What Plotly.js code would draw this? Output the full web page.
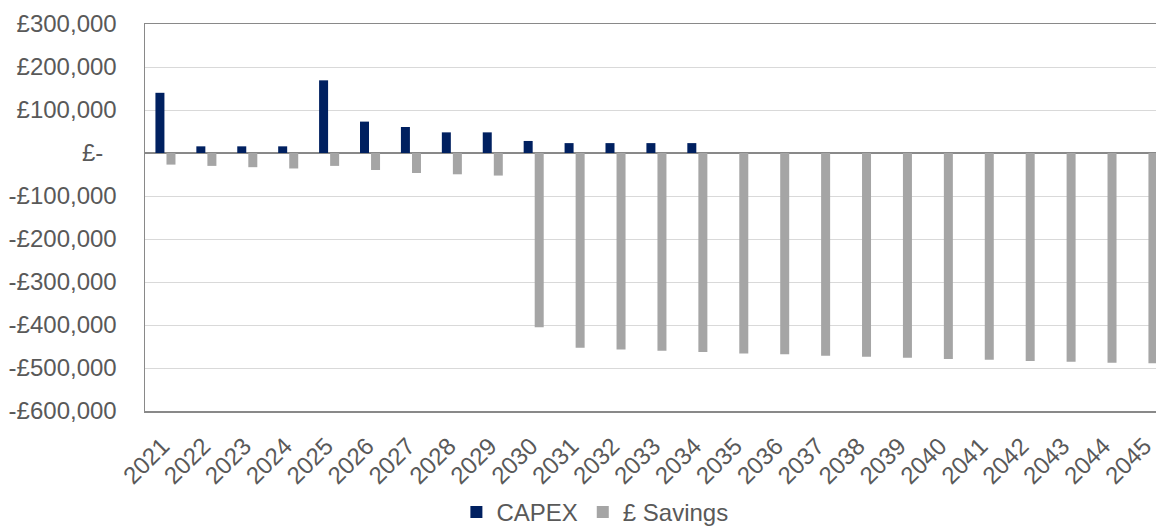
<!DOCTYPE html>
<html>
<head>
<meta charset="utf-8">
<script src="https://cdn.plot.ly/plotly-3.0.1.min.js"></script>
<style>
html,body{margin:0;padding:0;overflow:hidden;background:#fff;}
#chart{width:1156px;height:531px;}
</style>
</head>
<body>
<div id="chart"></div>
<script>
const years = ['2021','2022','2023','2024','2025','2026','2027','2028','2029','2030','2031','2032','2033','2034','2035','2036','2037','2038','2039','2040','2041','2042','2043','2044','2045'];
const capex = [140000,15500,15500,15500,169000,73000,60500,48000,48000,28000,23000,23000,23000,23000,0,0,0,0,0,0,0,0,0,0,0];
const savings = [-27000,-30000,-33000,-36000,-30000,-39500,-46500,-49500,-52500,-405000,-453000,-457000,-460000,-463000,-466000,-468000,-471500,-474000,-476000,-479000,-481000,-484000,-485500,-488000,-489000];
const yTickVals = [300000,200000,100000,0,-100000,-200000,-300000,-400000,-500000,-600000];
const yTickText = ['£300,000','£200,000','£100,000','£-\u2007','-£100,000','-£200,000','-£300,000','-£400,000','-£500,000','-£600,000'];

const font = {family:'"Liberation Sans", Arial, sans-serif', size:24, color:'#595959'};

const traces = [
  {type:'bar', name:'CAPEX', x:years, y:capex, marker:{color:'#002060'}, width:0.22, offset:-0.245, hoverinfo:'x+y'},
  {type:'bar', name:'£ Savings', x:years, y:savings, marker:{color:'#A5A5A5'}, width:0.22, offset:0.025, hoverinfo:'x+y'}
];

const layout = {
  width:1156, height:531,
  margin:{l:145, r:0, t:24, b:120, pad:0, autoexpand:false},
  paper_bgcolor:'#ffffff', plot_bgcolor:'#ffffff',
  font:font,
  barmode:'group',
  showlegend:true,
  legend:{orientation:'h', xref:'paper', x:0.445, xanchor:'center', yref:'container', y:0.035, yanchor:'middle', font:font, itemwidth:30, traceorder:'normal'},
  xaxis:{
    type:'category', range:[-0.5, 24.21], automargin:false,
    showline:true, linecolor:'#898989', linewidth:1.5, mirror:true,
    showgrid:false, zeroline:false,
    ticks:'', tickangle:-45, tickfont:font, ticklabelstandoff:10, ticklabelshift:-3
  },
  yaxis:{
    range:[-600000,300000], automargin:false,
    tickvals:yTickVals, ticktext:yTickText,
    showline:true, linecolor:'#898989', linewidth:1.5,
    showgrid:true, gridcolor:'#D9D9D9', gridwidth:1,
    zeroline:true, zerolinecolor:'#898989', zerolinewidth:2,
    ticks:'', tickfont:font, ticklabelstandoff:22
  }
};

Plotly.newPlot('chart', traces, layout, {displayModeBar:false, staticPlot:true});
</script>
</body>
</html>
